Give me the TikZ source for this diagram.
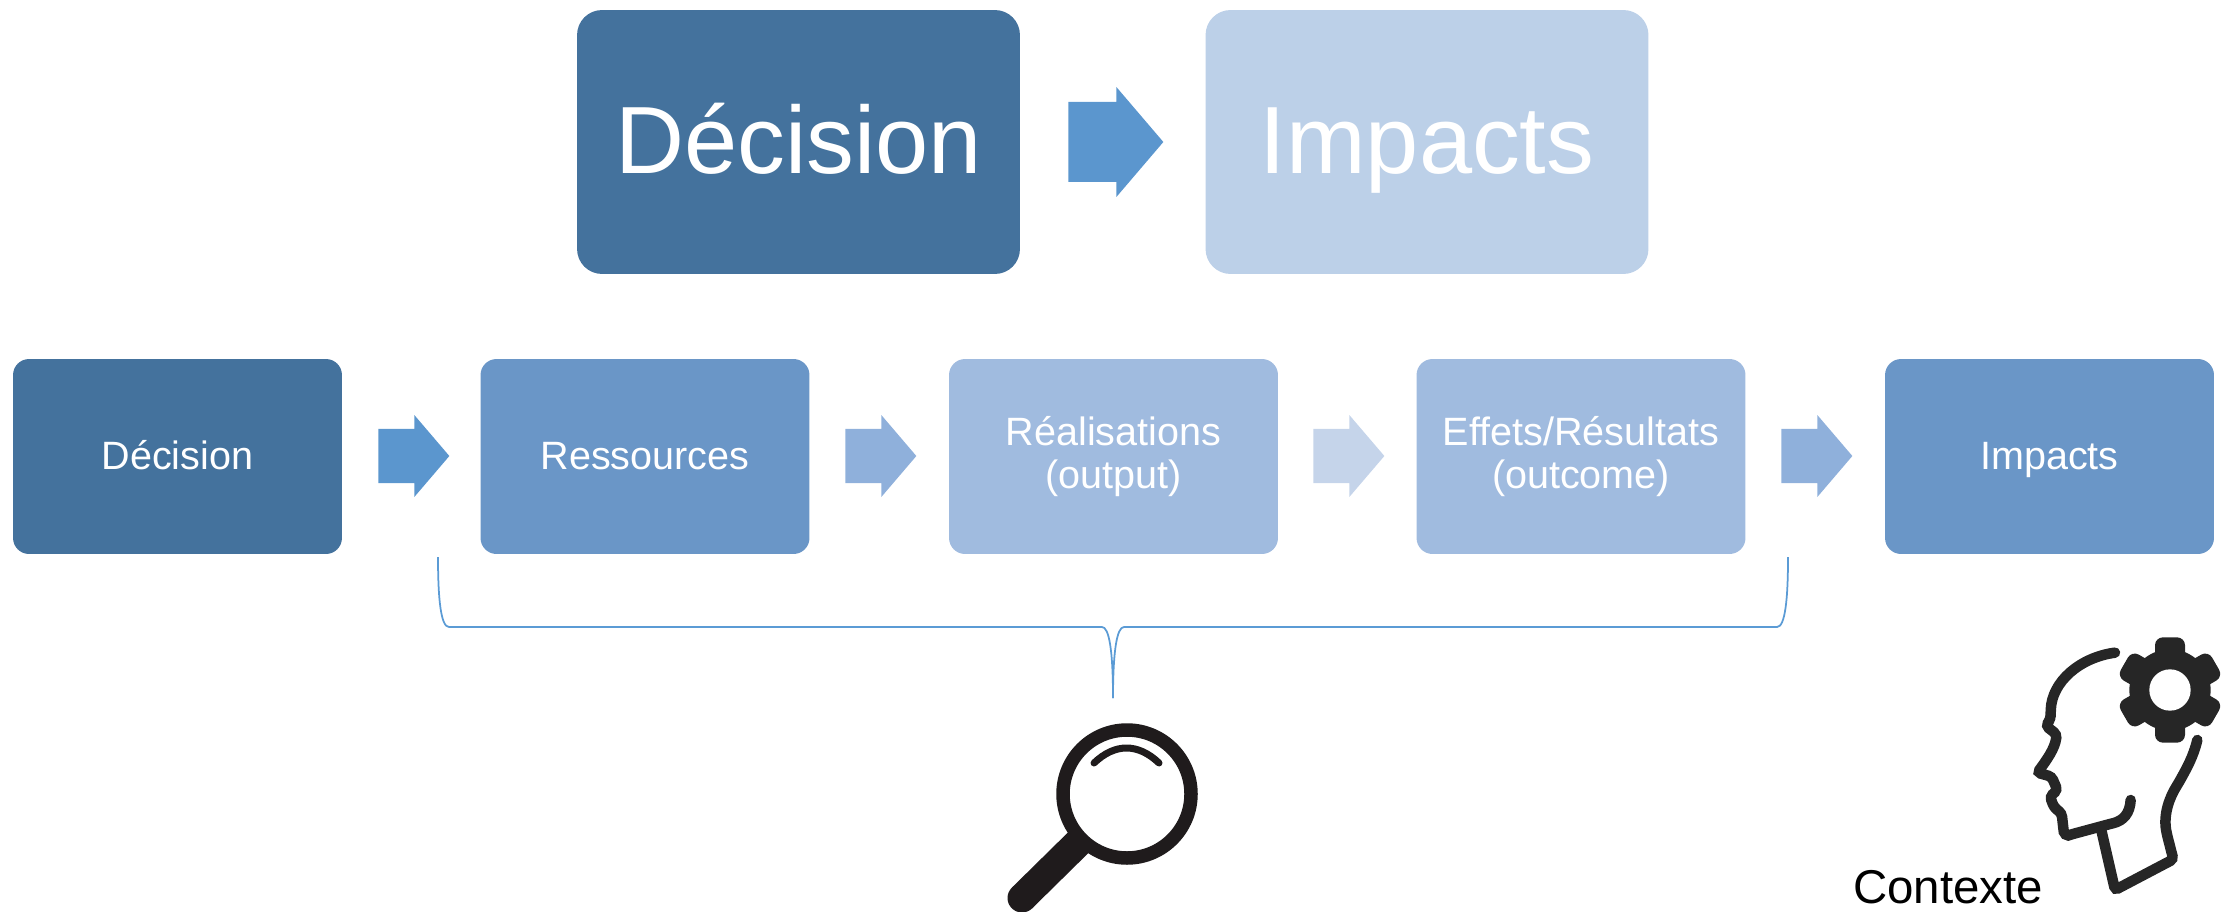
\documentclass[tikz,border=0pt]{standalone}
\usepackage{fontspec}
\setmainfont{Liberation Sans}
\usepackage{xcolor}
\usepackage{tikz}
\usetikzlibrary{shapes.arrows}
\definecolor{darkblue}{HTML}{44729D}
\definecolor{midblue}{HTML}{6A96C7}
\definecolor{softblue}{HTML}{A0BBDF}
\definecolor{paleblue}{HTML}{BCD0E8}
\definecolor{arrowblue}{HTML}{5B96CE}
\definecolor{arrowsoft}{HTML}{8FB0DB}
\definecolor{arrowpale}{HTML}{C5D4EA}
\definecolor{bracketblue}{HTML}{5B9BD5}
\definecolor{iconink}{HTML}{262626}
\definecolor{lensink}{HTML}{1F1B1C}
\tikzset{
	bigbox/.style={rounded corners=0.5cm,minimum width=8.86cm,minimum height=5.28cm,inner sep=0,text=white,text height=1.28cm,text depth=0cm,font=\fontsize{54.4}{60}\selectfont},
	rowbox/.style={rounded corners=0.32cm,minimum width=6.58cm,minimum height=3.9cm,inner sep=0,text=white,align=center,font=\fontsize{22.5}{24.3}\selectfont},
	rowsingle/.style={rowbox,text height=0.5cm,text depth=0cm},
	bigarrow/.style={single arrow,anchor=tail,inner xsep=0,inner ysep=0.66cm,minimum height=1.9cm,minimum width=2.2cm,single arrow tip angle=99},
	rowarrow/.style={single arrow,anchor=tail,inner xsep=0,inner ysep=0.48cm,minimum height=1.42cm,minimum width=1.64cm,single arrow tip angle=99},
	headline/.style={iconink,line width=0.21cm,line cap=round,rounded corners=2pt}
}
\begin{document}
\begin{tikzpicture}[x=0.02cm,y=-0.02cm]
	\clip (0,0) rectangle (2234,912);
	\useasboundingbox (0,0) rectangle (2234,912);
	\node[bigbox,fill=darkblue] (topdecision) at (798.5,142) {Décision};
	\node[bigarrow,fill=arrowblue] (toparrow) at (1068,142) {};
	\node[bigbox,fill=paleblue] (topimpacts) at (1427,142) {Impacts};
	\node[rowsingle,fill=darkblue] (decision) at (177.5,456.5) {Décision};
	\node[rowsingle,fill=midblue] (ressources) at (645,456.5) {Ressources};
	\node[rowbox,fill=softblue] (realisations) at (1113.5,456.5) {Réalisations\\(output)};
	\node[rowbox,fill=softblue] (effets) at (1581,456.5) {Effets/Résultats\\(outcome)};
	\node[rowsingle,fill=midblue] (impacts) at (2049.5,456.5) {Impacts};
	\node[rowarrow,fill=arrowblue] (arrowa) at (378,456) {};
	\node[rowarrow,fill=arrowsoft] (arrowb) at (845,456) {};
	\node[rowarrow,fill=arrowpale] (arrowc) at (1313,456) {};
	\node[rowarrow,fill=arrowsoft] (arrowd) at (1781,456) {};
	\coordinate (braceleft) at (438,557);
	\coordinate (braceright) at (1788,557);
	\coordinate (bracetip) at (1113,698);
	\draw[bracketblue,line width=0.035cm] (braceleft) .. controls (438,600) and (441,627) .. (449,627) -- (1102,627) .. controls (1109,627) and (1113,650) .. (bracetip);
	\draw[bracketblue,line width=0.035cm] (braceright) .. controls (1788,600) and (1785,627) .. (1777,627) -- (1124,627) .. controls (1117,627) and (1113,650) .. (bracetip);
	\draw[lensink,line width=0.27cm] (1127,794) circle (64);
	\draw[lensink,line width=0.14cm,line cap=round] (1094,763) .. controls (1115,743) and (1138,743) .. (1159,763);
	\draw[lensink,line width=0.58cm] (1085,836) -- (1022,898);
	\fill[lensink] (1022,898) circle (14.5);
	\node[anchor=base,font=\fontsize{27}{32}\selectfont] (contexte) at (1948,903) {Contexte};
	\begin{scope}[shift={(1800,600)},x=0.00667cm,y=-0.00667cm]
		\draw[headline] (945,158) .. controls (840,172) and (755,245) .. (752,340) -- (752,355) -- (738,378) -- (770,403) .. controls (765,445) and (740,480) .. (712,518) -- (755,530) -- (772,570) -- (750,590) -- (762,622) -- (785,640) -- (790,685) .. controls (792,700) and (800,708) .. (815,703) -- (930,672) .. controls (970,662) and (990,640) .. (992,600);
		\draw[headline] (905,695) -- (945,870) -- (1120,778) -- (1100,700) .. controls (1090,640) and (1110,590) .. (1135,550) .. controls (1160,505) and (1180,470) .. (1192,420);
		\fill[iconink,rounded corners=4.5pt] (1065,112) rectangle (1155,428);
		\fill[iconink,rounded corners=4.5pt,rotate around={60:(1110,270)}] (1065,112) rectangle (1155,428);
		\fill[iconink,rounded corners=4.5pt,rotate around={120:(1110,270)}] (1065,112) rectangle (1155,428);
		\fill[iconink] (1110,270) circle (122);
		\fill[white] (1110,270) circle (62);
	\end{scope}
\end{tikzpicture}
\end{document}
